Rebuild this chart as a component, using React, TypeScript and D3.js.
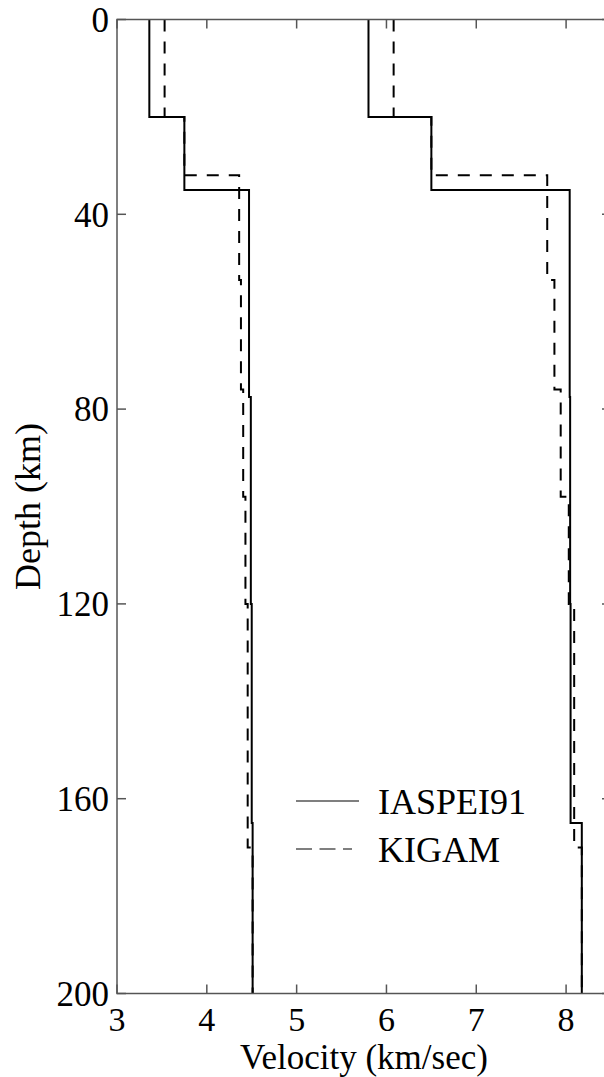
import React from "react";
import * as d3 from "d3";

// Layer boundaries (km) and velocities (km/s) of the two crust/upper-mantle models
const iaspeiDepths = [0, 20, 35, 77.5, 120, 165, 200];
const iaspeiVp = [5.8, 6.5, 8.04, 8.045, 8.05, 8.175];
const iaspeiVs = [3.36, 3.75, 4.47, 4.49, 4.5, 4.51];

const kigamDepths = [0, 20, 32, 53.5, 76, 98, 120, 170, 200];
const kigamVp = [6.08, 6.5, 7.79, 7.87, 7.94, 8.03, 8.09, 8.175];
const kigamVs = [3.53, 3.75, 4.36, 4.38, 4.405, 4.43, 4.455, 4.51];

const depthTicks = [0, 40, 80, 120, 160, 200];
const velocityTicks = [3, 4, 5, 6, 7, 8];

const legendItems = [
  { label: "IASPEI91", dashed: false },
  { label: "KIGAM", dashed: true },
];

const W = 604;
const H = 1077;
const FONT =
  '"Liberation Serif", "Times New Roman", Times, "Nimbus Roman", "Nimbus Roman No9 L", "Noto Serif", "DejaVu Serif", FreeSerif, serif';
const DASH = "12,10";

function stepPoints(depths: number[], vel: number[]): [number, number][] {
  const pts: [number, number][] = [];
  vel.forEach((v, i) => {
    pts.push([v, depths[i]]);
    pts.push([v, depths[i + 1]]);
  });
  return pts;
}

const textStyle = { fontFamily: FONT };

export default function App() {
  const x = d3.scaleLinear().domain([3, 8.5]).range([117, 611]);
  const y = d3.scaleLinear().domain([0, 200]).range([19.5, 993.5]);
  const line = d3
    .line<[number, number]>()
    .x((d) => x(d[0]))
    .y((d) => y(d[1]));

  const [x0, x1] = x.range();
  const [y0, y1] = y.range();
  const tickLen = 9;
  const axisColor = "#555";

  const profiles = [
    { pts: stepPoints(iaspeiDepths, iaspeiVs), dashed: false },
    { pts: stepPoints(iaspeiDepths, iaspeiVp), dashed: false },
    { pts: stepPoints(kigamDepths, kigamVs), dashed: true },
    { pts: stepPoints(kigamDepths, kigamVp), dashed: true },
  ];

  return (
    <svg
      width={W}
      height={H}
      style={{ position: "absolute", left: 0, top: 0, background: "#fff", fontFamily: FONT }}
    >
      <rect x={0} y={0} width={W} height={H} fill="#fff" />

      {/* velocity profiles */}
      {profiles.map((p, i) => (
        <path
          key={i}
          d={line(p.pts) || ""}
          fill="none"
          stroke="#000"
          strokeWidth={2}
          strokeDasharray={p.dashed ? DASH : undefined}
          strokeLinejoin="miter"
        />
      ))}

      {/* frame */}
      <rect
        x={x0}
        y={y0}
        width={x1 - x0}
        height={y1 - y0}
        fill="none"
        stroke={axisColor}
        strokeWidth={1.5}
      />

      {/* velocity ticks (bottom and top, pointing inward) */}
      {velocityTicks.map((v) => (
        <g key={"vx" + v}>
          <line x1={x(v)} x2={x(v)} y1={y1} y2={y1 - tickLen} stroke={axisColor} strokeWidth={1.5} />
          <line x1={x(v)} x2={x(v)} y1={y0} y2={y0 + tickLen} stroke={axisColor} strokeWidth={1.5} />
          <text x={x(v)} y={1031} fontSize={34} textAnchor="middle" fill="#000" style={textStyle}>
            {v}
          </text>
        </g>
      ))}

      {/* depth ticks (left and right, pointing inward) */}
      {depthTicks.map((d) => (
        <g key={"dy" + d}>
          <line x1={x0} x2={x0 + tickLen} y1={y(d)} y2={y(d)} stroke={axisColor} strokeWidth={1.5} />
          <line x1={x1} x2={x1 - tickLen} y1={y(d)} y2={y(d)} stroke={axisColor} strokeWidth={1.5} />
          <text
            x={109}
            y={y(d)}
            dy="0.35em"
            fontSize={35}
            textAnchor="end"
            fill="#000"
            style={textStyle}
          >
            {d}
          </text>
        </g>
      ))}

      {/* axis titles */}
      <text
        x={(x0 + x1) / 2}
        y={1069}
        fontSize={35}
        textAnchor="middle"
        fill="#000"
        style={textStyle}
      >
        Velocity (km/sec)
      </text>
      <text
        transform={`translate(40,${(y0 + y1) / 2}) rotate(-90)`}
        fontSize={36}
        textAnchor="middle"
        fill="#000"
        style={textStyle}
      >
        Depth (km)
      </text>

      {/* legend */}
      {legendItems.map((item, i) => {
        const ly = 801 + i * 48;
        return (
          <g key={item.label}>
            <line
              x1={296}
              x2={item.dashed ? 352 : 359}
              y1={ly}
              y2={ly}
              stroke="#555"
              strokeWidth={1.6}
              strokeDasharray={item.dashed ? "16,7.5" : undefined}
            />
            <text x={378} y={ly + 12.5} fontSize={36} fill="#000" style={textStyle}>
              {item.label}
            </text>
          </g>
        );
      })}
    </svg>
  );
}
